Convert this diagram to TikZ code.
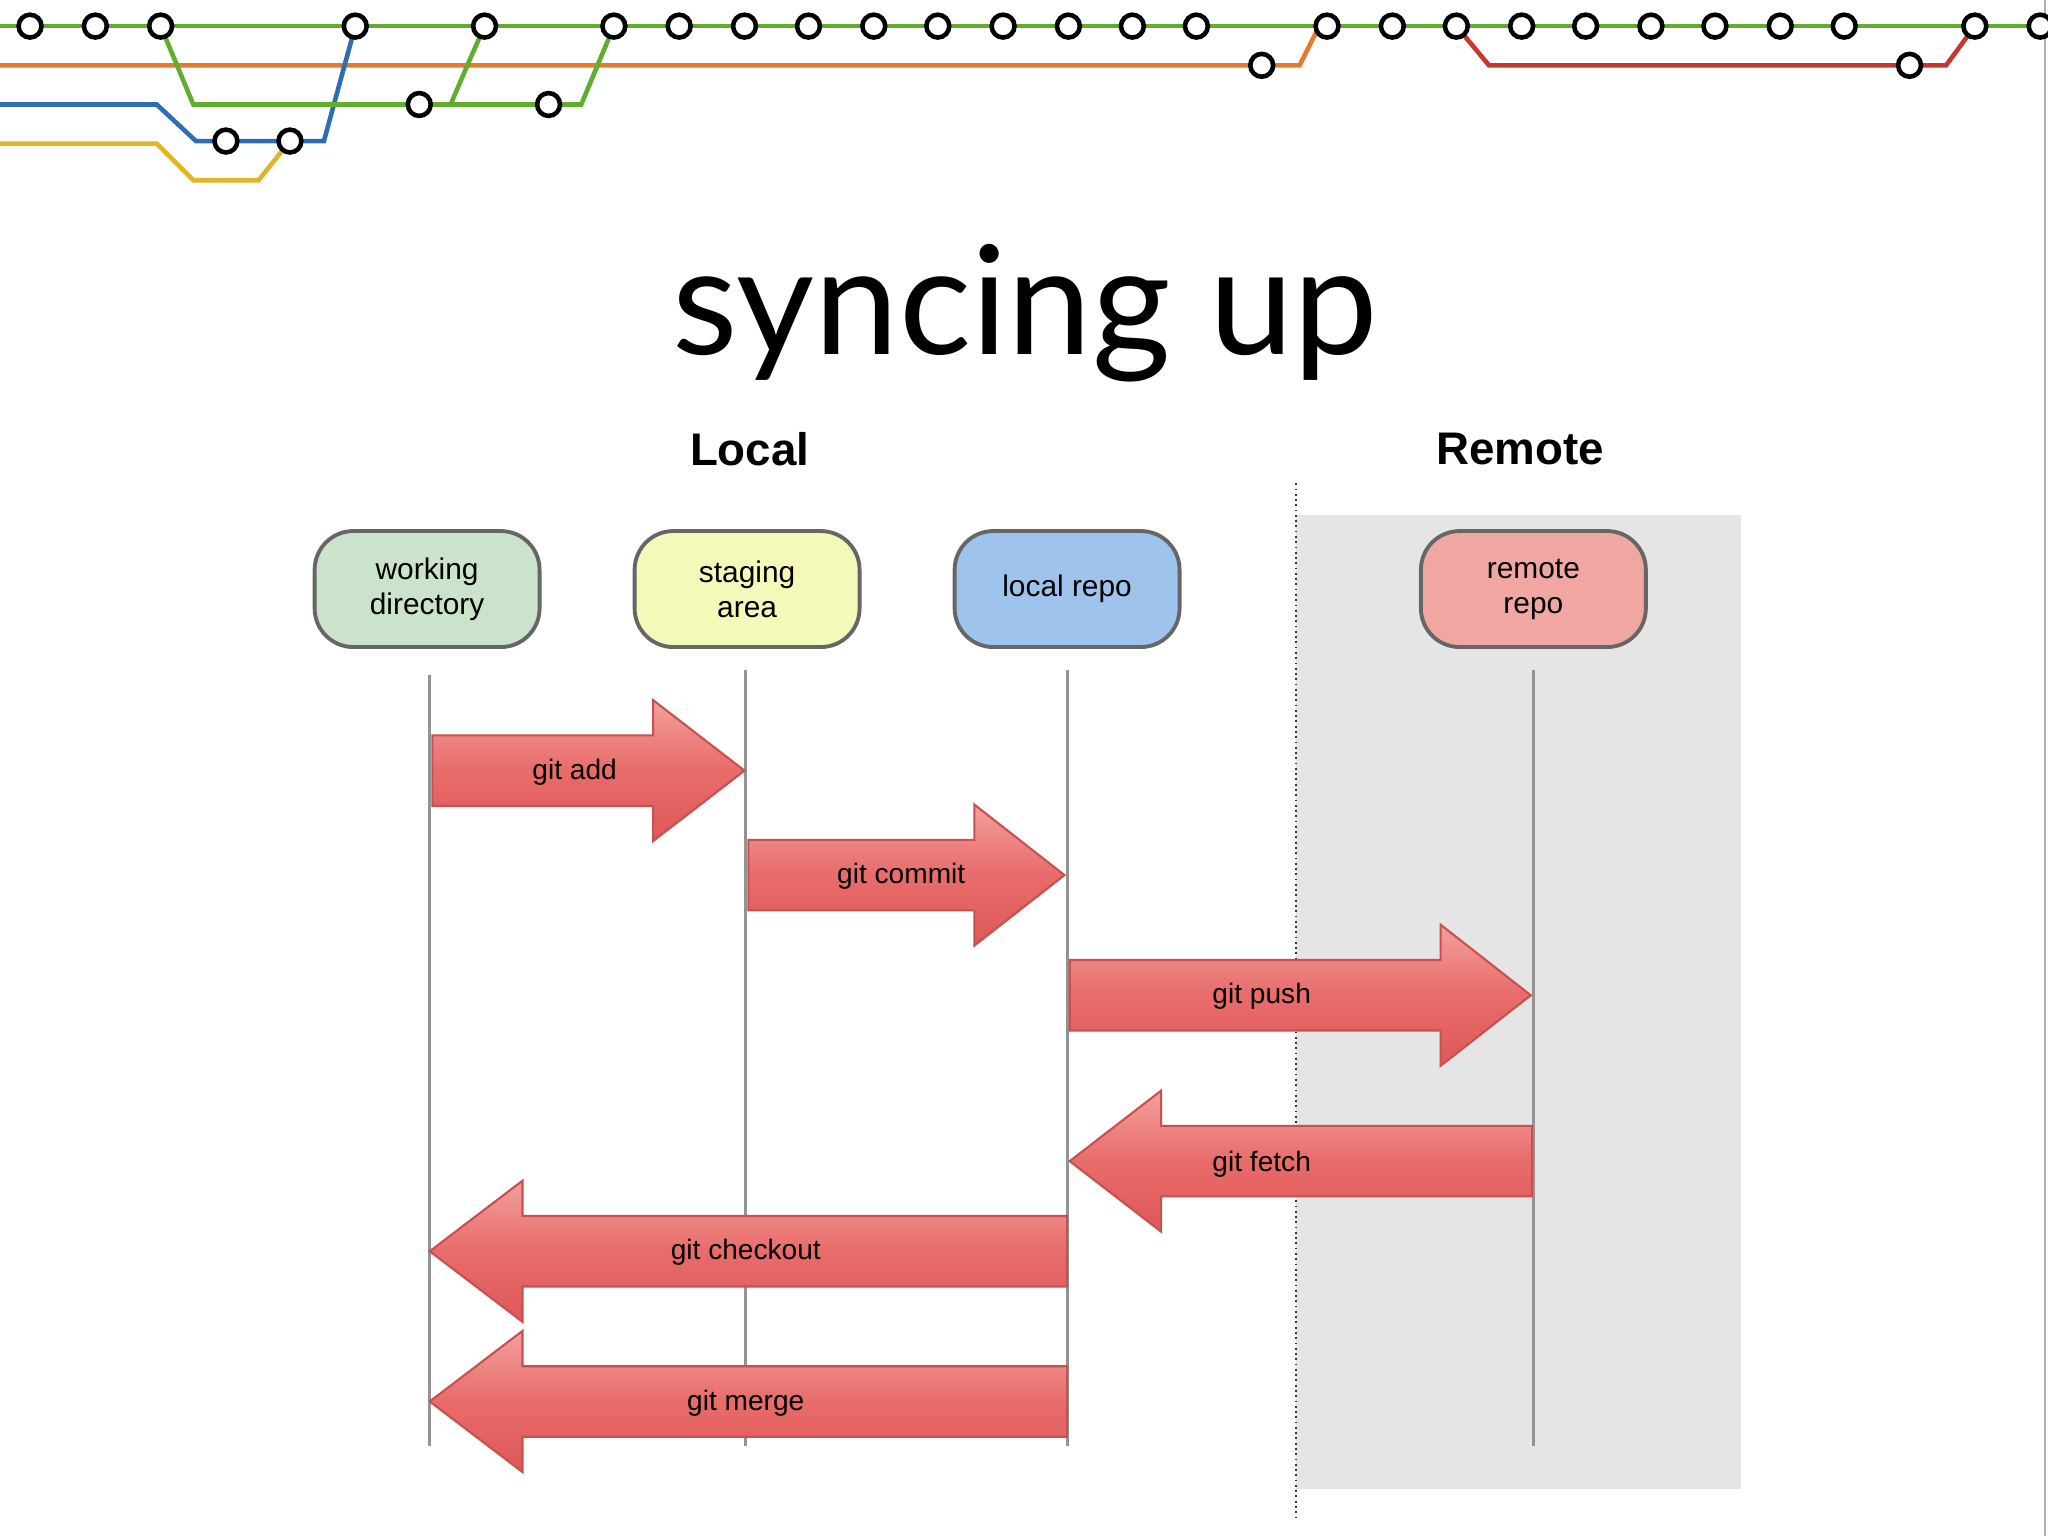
\documentclass[tikz,border=0pt]{standalone}
\usepackage{fontspec}
\setmainfont{Liberation Sans}
\newfontfamily\titlefont{Lato}
\definecolor{mgreen}{HTML}{5FAE2E}
\definecolor{morange}{HTML}{E57A2C}
\definecolor{mblue}{HTML}{2E6DB4}
\definecolor{myellow}{HTML}{E2B526}
\definecolor{mred}{HTML}{C8372B}
\definecolor{cwd}{HTML}{CCE3CB}
\definecolor{cst}{HTML}{F4F9B9}
\definecolor{clr}{HTML}{9EC3EC}
\definecolor{crr}{HTML}{F0A7A1}
\tikzset{
 mline/.style={line width=1.3pt},
 stn/.style={circle,draw=black,fill=white,line width=1.3pt,minimum size=6.5pt,inner sep=0pt},
 pill/.style={rectangle,rounded corners=11pt,draw=gray!80!black,line width=1.1pt,minimum width=64pt,minimum height=33pt,align=center,font=\fontsize{8.5}{10}\selectfont},
 life/.style={draw=gray!85,line width=0.9pt},
 arr/.style={top color={rgb,255:red,242;green,160;blue,156},bottom color={rgb,255:red,222;green,88;blue,88},middle color={rgb,255:red,232;green,108;blue,106},draw={rgb,255:red,200;green,80;blue,80},line width=0.6pt},
 lbl/.style={font=\fontsize{8}{10}\selectfont}
}
\begin{document}
\begin{tikzpicture}[x=0.013061cm,y=-0.013061cm]
\useasboundingbox (0,0) rectangle (1568,1176);
\fill[white] (0,0) rectangle (1568,1176);
\draw[gray!60,line width=0.6pt] (1566,0)--(1566,1176);
% metro
\draw[mline,morange] (0,50)--(966,50)--(995,50)--(1010,20);
\draw[mline,mred] (1115,20)--(1140,50)--(1462,50)--(1490,50)--(1512,20);
\draw[mline,myellow] (0,110)--(120,110)--(148,138)--(198,138)--(222,108);
\draw[mline,mblue] (0,80)--(120,80)--(150,108)--(248,108)--(272,20);
\draw[mline,mgreen] (0,20)--(1568,20);
\draw[mline,mgreen] (123,20)--(148,80)--(345,80)--(360,45)--(371,20);
\draw[mline,mgreen] (345,80)--(445,80)--(470,20);
\foreach \x in {23,73,123,272,371,470,520,570,619,669,718,768,818,867,916,1016,1066,1115,1165,1214,1264,1313,1363,1412,1512,1562}
 \node[stn] (s\x) at (\x,20) {};
\node[stn] (o1) at (966,50) {};
\node[stn] (r1) at (1462,50) {};
\node[stn] (b1) at (173,108) {};
\node[stn] (b2) at (222,108) {};
\node[stn] (g1) at (321,80) {};
\node[stn] (g2) at (420,80) {};
% title
\node[font=\titlefont\fontsize{43}{48}\selectfont] (title) at (785,240) {syncing up};
\node[font=\bfseries\fontsize{13}{15}\selectfont] (local) at (574,344) {Local};
\node[font=\bfseries\fontsize{13}{15}\selectfont] (remote) at (1164,344) {Remote};
% remote area
\fill[gray!20] (992,394) rectangle (1333,1140);
\draw[densely dotted,gray!40!black,line width=0.5pt] (992,370)--(992,1165);
% nodes
\node[pill,fill=cwd] (wd) at (327,451) {working\\directory};
\node[pill,fill=cst] (sa) at (572,451) {staging\\area};
\node[pill,fill=clr] (lr) at (817,451) {local repo};
\node[pill,fill=crr] (rr) at (1174,451) {remote\\repo};
\coordinate (wdb) at (329,1107); \coordinate (sab) at (571,1107);
\coordinate (lrb) at (817,1107); \coordinate (rrb) at (1174,1107);
\draw[life] (329,517)--(wdb);
\draw[life] (571,513)--(sab);
\draw[life] (817,513)--(lrb);
\draw[life] (1174,513)--(rrb);
% arrows
\newcommand{\rarr}[4]{% tail x, head base x, tip x, y
 \draw[arr] (#1,#4-27)--(#2,#4-27)--(#2,#4-54)--(#3,#4)--(#2,#4+54)--(#2,#4+27)--(#1,#4+27)--cycle;}
\rarr{331}{500}{570}{590}
\node[lbl] (add) at (440,591) {git add};
\rarr{573}{746}{815}{670}
\node[lbl] (commit) at (690,671) {git commit};
\rarr{819}{1103}{1172}{762}
\node[lbl] (push) at (966,763) {git push};
\rarr{1173}{889}{819}{889}
\node[lbl] (fetch) at (966,891) {git fetch};
\rarr{817}{400}{329}{958}
\node[lbl] (checkout) at (571,959) {git checkout};
\rarr{817}{400}{329}{1073}
\node[lbl] (merge) at (571,1074) {git merge};
\end{tikzpicture}
\end{document}
